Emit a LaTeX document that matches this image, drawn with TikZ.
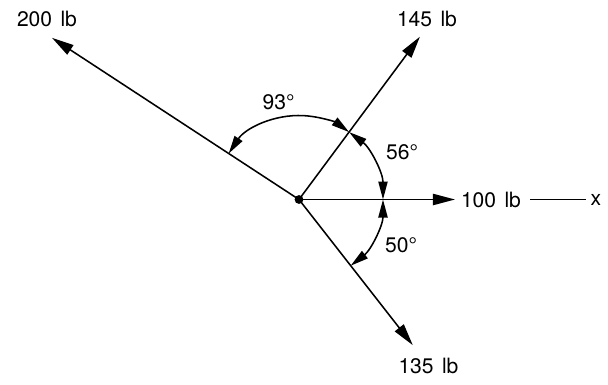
\documentclass[tikz,border=0pt]{standalone}
\usepackage{fontspec}
\setmainfont{TeX Gyre Heros}
\usetikzlibrary{arrows.meta}
\tikzset{
  force/.style={line width=1.1pt, -{Triangle[length=5.5mm,width=2.8mm]}},
  angle/.style={line width=1.1pt, {Triangle[length=4.5mm,width=2.3mm]}-{Triangle[length=4.5mm,width=2.3mm]}},
  lbl/.style={inner sep=0pt, font=\fontsize{15}{18}\selectfont}
}
\begin{document}
\begin{tikzpicture}
            \useasboundingbox (-7.475,-4.6125) rectangle (7.725,4.9875);
            \coordinate (O) at (0,0);
            \coordinate (t100) at (0:3.9);
            \coordinate (t145) at (53.4:5.07);
            \coordinate (t200) at (146.8:7.38);
            \coordinate (t135) at (-52:4.62);
            \draw[force] (O) -- (t100);
            \draw[force] (O) -- (t145);
            \draw[force] (O) -- (t200);
            \draw[force] (O) -- (t135);
            \fill (O) circle (0.11);
            \draw[angle] (146.8:2.1) arc [start angle=146.8, end angle=53.4, radius=2.1];
            \draw[angle] (53.4:2.1) arc [start angle=53.4, end angle=0, radius=2.1];
            \draw[angle] (0:2.1) arc [start angle=0, end angle=-52, radius=2.1];
            \node[lbl] (f200) at (-6.3,4.51) {200\hspace{0.12em} lb};
            \node[lbl] (f145) at (3.2,4.525) {145\hspace{0.12em} lb};
            \node[lbl] (f135) at (3.2375,-4.1625) {135\hspace{0.12em} lb};
            \node[lbl] (f100) at (4.8,0) {100\hspace{0.12em} lb};
            \node[lbl] (xlab) at (7.425,0) {x};
            \draw[line width=0.9pt, shorten <=0.23cm, shorten >=0.12cm] (f100) -- (xlab);
            \node[lbl] (a93) at (-0.5125,2.425) {93°};
            \node[lbl] (a56) at (2.575,1.175) {56°};
            \node[lbl] (a50) at (2.55,-1.15) {50°};
\end{tikzpicture}
\end{document}
